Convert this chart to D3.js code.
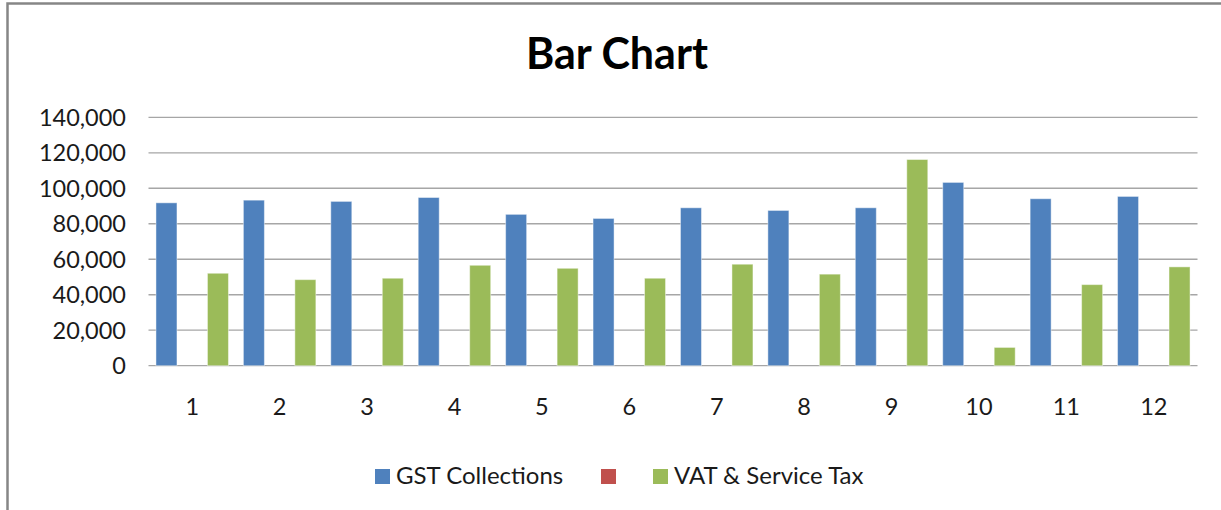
<!DOCTYPE html>
<html>
<head>
<meta charset="utf-8">
<script src="https://cdn.jsdelivr.net/npm/d3@7"></script>
<style>
  html, body { margin: 0; padding: 0; background: #fff; }
  svg { display: block; }
  text { font-family: Lato, "Open Sans", sans-serif; fill: #1a1a1a; }
</style>
</head>
<body>
<svg id="chart" width="1221" height="510"></svg>
<script>
// ---- data ----
const categories = ["1","2","3","4","5","6","7","8","9","10","11","12"];
const seriesNames = ["GST Collections", "", "VAT & Service Tax"];
const gstValues = [91800, 93300, 92600, 94800, 85300, 83000, 89000, 87500, 89000, 103300, 94100, 95400];
const blankValues = [null, null, null, null, null, null, null, null, null, null, null, null];
const vatValues = [52100, 48500, 49300, 56600, 54900, 49300, 57200, 51600, 116200, 10300, 45700, 55700];
const yTicks = [0, 20000, 40000, 60000, 80000, 100000, 120000, 140000];
const colors = ["#4F81BD", "#C0504D", "#9BBB59"];
const title = "Bar Chart";

// ---- chart ----
const svg = d3.select("#chart");
const W = 1221, H = 510;

// outer frame
svg.append("rect")
  .attr("x", 7.5).attr("y", 3.5)
  .attr("width", W + 20).attr("height", H + 20)
  .attr("fill", "#fff")
  .attr("stroke", "#868686").attr("stroke-width", 2.5);

const plot = { left: 148.5, right: 1197.5, top: 117.3, bottom: 365.7 };

const x0 = d3.scaleBand().domain(categories).range([plot.left, plot.right]).padding(0);
const x1 = d3.scaleBand().domain(d3.range(seriesNames.length))
  .range([0, x0.bandwidth()]).paddingInner(0.184).paddingOuter(0.29);
const y = d3.scaleLinear().domain([0, 140000]).range([plot.bottom, plot.top]);

// title
svg.append("text")
  .attr("x", 617).attr("y", 69)
  .attr("text-anchor", "middle")
  .attr("font-size", 43).attr("font-weight", 700)
  .style("fill", "#000")
  .text(title);

// gridlines
svg.append("g").selectAll("line").data(yTicks).join("line")
  .attr("x1", plot.left).attr("x2", plot.right)
  .attr("y1", d => y(d)).attr("y2", d => y(d))
  .attr("stroke", "#a6a6a6").attr("stroke-width", 1.3);

// y axis labels
const fmt = d3.format(",");
svg.append("g").selectAll("text").data(yTicks).join("text")
  .attr("x", 126).attr("y", d => y(d) + 8.5)
  .attr("text-anchor", "end")
  .attr("font-size", 23.5)
  .text(d => fmt(d));

// bars
const seriesData = [gstValues, blankValues, vatValues];
const groups = svg.append("g").selectAll("g").data(seriesData).join("g")
  .attr("fill", (d, i) => colors[i]);
groups.each(function(vals, si) {
  d3.select(this).selectAll("rect")
    .data(vals.map((v, ci) => ({ v, c: categories[ci] })).filter(d => d.v != null))
    .join("rect")
    .attr("x", d => x0(d.c) + x1(si))
    .attr("width", x1.bandwidth())
    .attr("y", d => y(d.v))
    .attr("height", d => y(0) - y(d.v))
    .attr("stroke", "rgba(255,255,255,0.45)").attr("stroke-width", 1);
});

// category labels
svg.append("g").selectAll("text").data(categories).join("text")
  .attr("x", d => x0(d) + x0.bandwidth() / 2)
  .attr("y", 415)
  .attr("text-anchor", "middle")
  .attr("font-size", 23.5)
  .text(d => d);

// legend
const legendX = [375, 601, 653];
const leg = svg.append("g");
seriesNames.forEach((name, i) => {
  leg.append("rect")
    .attr("x", legendX[i]).attr("y", 469)
    .attr("width", 15).attr("height", 15)
    .attr("fill", colors[i]);
  if (name) {
    leg.append("text")
      .attr("x", legendX[i] + 21).attr("y", 484)
      .attr("font-size", 24)
      .text(name);
  }
});
</script>
</body>
</html>
